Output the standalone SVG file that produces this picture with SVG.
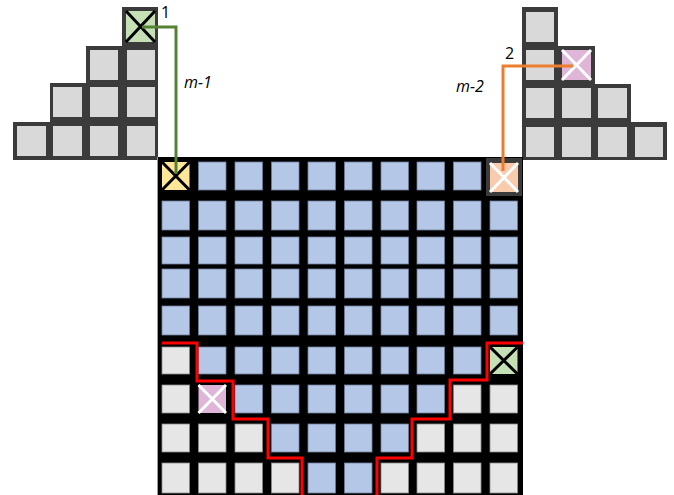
<svg xmlns="http://www.w3.org/2000/svg" width="674" height="495" viewBox="0 0 674 495">
<style>
.bg{fill:#000}
.dk{fill:#3b3b3b}
.s{fill:#d9d9d9}
.b{fill:#b4c7e7;stroke:#6f7f99;stroke-width:0.8}
.g{fill:#e6e6e6;stroke:#8a8a8a;stroke-width:0.8}
.xb{stroke:#000;stroke-width:3;fill:none}
.xw{stroke:#fff;stroke-width:3;fill:none}
.lbl{font-family:"Open Sans","Liberation Sans",sans-serif;font-size:16px;fill:#000}
.it{font-style:italic}
.conn{fill:none;stroke-width:3}
</style>
<rect width="674" height="495" fill="#fff"/>

<g id="stairs-left">
<path class="dk" d="M122,7 H158 V160 H13 V122 H50 V83 H86 V46 H122 Z"/>
<rect class="s" x="90" y="50" width="28" height="30"/>
<rect class="s" x="127" y="50" width="28" height="30"/>
<rect class="s" x="53" y="87" width="29" height="30"/>
<rect class="s" x="90" y="87" width="28" height="30"/>
<rect class="s" x="127" y="87" width="28" height="30"/>
<rect class="s" x="17" y="126" width="29" height="30"/>
<rect class="s" x="53" y="126" width="29" height="30"/>
<rect class="s" x="90" y="126" width="28" height="30"/>
<rect class="s" x="127" y="126" width="28" height="30"/>
</g>
<g id="cell-1-src">
<rect x="126" y="11" width="29" height="31" fill="#c5e0b4"/>
<path class="xb" d="M126,11 L155,42 M155,11 L126,42"/>
</g>

<g id="stairs-right">
<path class="dk" d="M522,7 H558 V46 H595 V84 H631 V122 H667 V160 H522 Z"/>
<rect class="s" x="526" y="12" width="28" height="30"/>
<rect class="s" x="526" y="50" width="28" height="30"/>
<rect class="s" x="526" y="88" width="28" height="30"/>
<rect class="s" x="562" y="88" width="29" height="30"/>
<rect class="s" x="526" y="127" width="28" height="30"/>
<rect class="s" x="562" y="127" width="29" height="30"/>
<rect class="s" x="598" y="88" width="29" height="30"/>
<rect class="s" x="598" y="127" width="29" height="30"/>
<rect class="s" x="635" y="127" width="28" height="30"/>
</g>
<g id="cell-2-src">
<rect x="562" y="50" width="29" height="30" fill="#e0b6d8"/>
<path class="xw" d="M562,50 L591,80 M591,50 L562,80"/>
</g>

<g id="grid">
<rect x="157" y="157" width="366" height="338" class="bg"/>
<line x1="157.5" y1="157" x2="157.5" y2="495" stroke="#9a9a9a" stroke-width="1"/>
<!-- row 1 -->
<rect class="b" x="198.5" y="162" width="27.5" height="28"/>
<rect class="b" x="235" y="162" width="27.5" height="28"/>
<rect class="b" x="271.5" y="162" width="27.5" height="28"/>
<rect class="b" x="308" y="162" width="27.5" height="28"/>
<rect class="b" x="344.5" y="162" width="27.5" height="28"/>
<rect class="b" x="381" y="162" width="27.5" height="28"/>
<rect class="b" x="417" y="162" width="27.5" height="28"/>
<rect class="b" x="453.5" y="162" width="27.5" height="28"/>
<!-- row 2 -->
<rect class="b" x="162" y="201" width="27.5" height="29"/>
<rect class="b" x="198.5" y="201" width="27.5" height="29"/>
<rect class="b" x="235" y="201" width="27.5" height="29"/>
<rect class="b" x="271.5" y="201" width="27.5" height="29"/>
<rect class="b" x="308" y="201" width="27.5" height="29"/>
<rect class="b" x="344.5" y="201" width="27.5" height="29"/>
<rect class="b" x="381" y="201" width="27.5" height="29"/>
<rect class="b" x="417" y="201" width="27.5" height="29"/>
<rect class="b" x="453.5" y="201" width="27.5" height="29"/>
<rect class="b" x="490" y="201" width="27.5" height="29"/>
<!-- row 3 -->
<rect class="b" x="162" y="237" width="27.5" height="27"/>
<rect class="b" x="198.5" y="237" width="27.5" height="27"/>
<rect class="b" x="235" y="237" width="27.5" height="27"/>
<rect class="b" x="271.5" y="237" width="27.5" height="27"/>
<rect class="b" x="308" y="237" width="27.5" height="27"/>
<rect class="b" x="344.5" y="237" width="27.5" height="27"/>
<rect class="b" x="381" y="237" width="27.5" height="27"/>
<rect class="b" x="417" y="237" width="27.5" height="27"/>
<rect class="b" x="453.5" y="237" width="27.5" height="27"/>
<rect class="b" x="490" y="237" width="27.5" height="27"/>
<!-- row 4 -->
<rect class="b" x="162" y="269" width="27.5" height="29"/>
<rect class="b" x="198.5" y="269" width="27.5" height="29"/>
<rect class="b" x="235" y="269" width="27.5" height="29"/>
<rect class="b" x="271.5" y="269" width="27.5" height="29"/>
<rect class="b" x="308" y="269" width="27.5" height="29"/>
<rect class="b" x="344.5" y="269" width="27.5" height="29"/>
<rect class="b" x="381" y="269" width="27.5" height="29"/>
<rect class="b" x="417" y="269" width="27.5" height="29"/>
<rect class="b" x="453.5" y="269" width="27.5" height="29"/>
<rect class="b" x="490" y="269" width="27.5" height="29"/>
<!-- row 5 -->
<rect class="b" x="162" y="306" width="27.5" height="29"/>
<rect class="b" x="198.5" y="306" width="27.5" height="29"/>
<rect class="b" x="235" y="306" width="27.5" height="29"/>
<rect class="b" x="271.5" y="306" width="27.5" height="29"/>
<rect class="b" x="308" y="306" width="27.5" height="29"/>
<rect class="b" x="344.5" y="306" width="27.5" height="29"/>
<rect class="b" x="381" y="306" width="27.5" height="29"/>
<rect class="b" x="417" y="306" width="27.5" height="29"/>
<rect class="b" x="453.5" y="306" width="27.5" height="29"/>
<rect class="b" x="490" y="306" width="27.5" height="29"/>
<!-- row 6 -->
<rect class="g" x="162" y="347" width="27.5" height="27"/>
<rect class="b" x="198.5" y="347" width="27.5" height="27"/>
<rect class="b" x="235" y="347" width="27.5" height="27"/>
<rect class="b" x="271.5" y="347" width="27.5" height="27"/>
<rect class="b" x="308" y="347" width="27.5" height="27"/>
<rect class="b" x="344.5" y="347" width="27.5" height="27"/>
<rect class="b" x="381" y="347" width="27.5" height="27"/>
<rect class="b" x="417" y="347" width="27.5" height="27"/>
<rect class="b" x="453.5" y="347" width="27.5" height="27"/>
<!-- row 7 -->
<rect class="g" x="162" y="385" width="27.5" height="28"/>
<rect class="b" x="235" y="385" width="27.5" height="28"/>
<rect class="b" x="271.5" y="385" width="27.5" height="28"/>
<rect class="b" x="308" y="385" width="27.5" height="28"/>
<rect class="b" x="344.5" y="385" width="27.5" height="28"/>
<rect class="b" x="381" y="385" width="27.5" height="28"/>
<rect class="b" x="417" y="385" width="27.5" height="28"/>
<rect class="g" x="453.5" y="385" width="27.5" height="28"/>
<rect class="g" x="490" y="385" width="27.5" height="28"/>
<!-- row 8 -->
<rect class="g" x="162" y="424" width="27.5" height="28"/>
<rect class="g" x="198.5" y="424" width="27.5" height="28"/>
<rect class="g" x="235" y="424" width="27.5" height="28"/>
<rect class="b" x="271.5" y="424" width="27.5" height="28"/>
<rect class="b" x="308" y="424" width="27.5" height="28"/>
<rect class="b" x="344.5" y="424" width="27.5" height="28"/>
<rect class="b" x="381" y="424" width="27.5" height="28"/>
<rect class="g" x="417" y="424" width="27.5" height="28"/>
<rect class="g" x="453.5" y="424" width="27.5" height="28"/>
<rect class="g" x="490" y="424" width="27.5" height="28"/>
<!-- row 9 -->
<rect class="g" x="162" y="463" width="27.5" height="30"/>
<rect class="g" x="198.5" y="463" width="27.5" height="30"/>
<rect class="g" x="235" y="463" width="27.5" height="30"/>
<rect class="g" x="271.5" y="463" width="27.5" height="30"/>
<rect class="b" x="308" y="463" width="27.5" height="30"/>
<rect class="b" x="344.5" y="463" width="27.5" height="30"/>
<rect class="g" x="381" y="463" width="27.5" height="30"/>
<rect class="g" x="417" y="463" width="27.5" height="30"/>
<rect class="g" x="453.5" y="463" width="27.5" height="30"/>
<rect class="g" x="490" y="463" width="27.5" height="30"/>
</g>

<g id="cell-1-dst">
<rect x="162" y="162" width="27.5" height="28" fill="#ffe699"/>
<path class="xb" d="M162,162 L189.5,190 M189.5,162 L162,190"/>
</g>
<g id="cell-2-dst">
<rect x="486" y="158" width="36" height="38" class="dk"/>
<rect x="490" y="163" width="28" height="29" fill="#f8cbad"/>
<path class="xw" d="M490,163 L518,192 M518,163 L490,192"/>
</g>
<g id="cell-green">
<rect x="490" y="347" width="27.5" height="27" fill="#c5e0b4"/>
<path class="xb" d="M490,347 L517.5,374 M517.5,347 L490,374"/>
</g>
<g id="cell-pink">
<rect x="198.5" y="385" width="27.5" height="28" fill="#e0b6d8"/>
<path class="xw" d="M198.5,385 L226,413 M226,385 L198.5,413"/>
</g>

<g id="connectors">
<polyline class="conn" stroke="#548235" points="142,27 176,27 176,174"/>
<polyline class="conn" stroke="#ed7d31" points="573,66 503,66 503,171"/>
<polyline class="conn" stroke="#ff0000" points="162,343 197,343 197,381 233,381 233,419 268,419 268,458 302,458 302,495"/>
<polyline class="conn" stroke="#ff0000" points="377,495 377,458 412,458 412,419 450,419 450,380 487,380 487,343 523,343"/>
</g>

<g id="labels">
<text class="lbl" x="161" y="18">1</text>
<text class="lbl it" x="184" y="88">m-1</text>
<text class="lbl" x="505" y="59">2</text>
<text class="lbl it" x="456" y="92">m-2</text>
</g>
</svg>
